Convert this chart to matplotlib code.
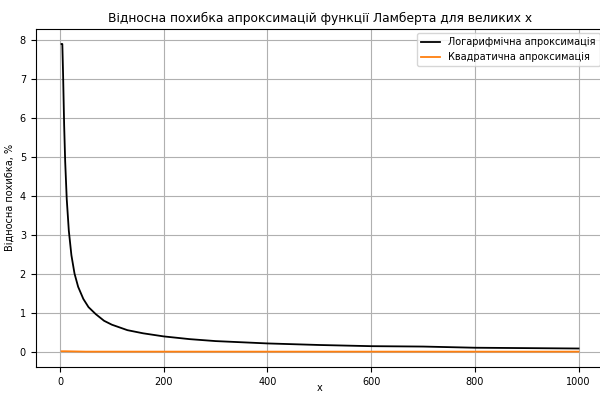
import matplotlib
matplotlib.use("Agg")
import matplotlib.pyplot as plt

# значення
x_log = [3, 4.5, 6, 8, 10, 13, 17, 22, 28, 35, 45, 55, 69, 85, 100, 130,
         160, 200, 250, 300, 400, 500, 600, 700, 800, 900, 1000]
err_log = [7.9, 7.9, 7.1, 5.83, 4.89, 3.93, 3.12, 2.49, 2.02, 1.68, 1.37, 1.16,
           0.98, 0.81, 0.71, 0.57, 0.49, 0.41, 0.34, 0.29, 0.23, 0.19, 0.16,
           0.15, 0.12, 0.11, 0.10]

x_quad = [3, 10, 50, 200, 500, 1000]
err_quad = [0.03, 0.03, 0.02, 0.02, 0.02, 0.02]

fig = plt.figure(figsize=(6, 3.94), dpi=100)
ax = fig.add_axes([0.0595, 0.0685, 0.9478, 0.8589])

ax.plot(x_log, err_log, color="black", linewidth=1.3, label="Логарифмічна апроксимація")
ax.plot(x_quad, err_quad, color="#ff7f0e", linewidth=1.3, label="Квадратична апроксимація")

ax.set_title("Відносна похибка апроксимацій функції Ламберта для великих x",
             fontsize=8.8, pad=5)
ax.set_xlabel("x", fontsize=7)
ax.xaxis.set_label_coords(0.5, -0.046)
ax.set_ylabel("Відносна похибка, %", fontsize=7)
ax.tick_params(labelsize=7)
ax.grid(True)
ax.legend(loc="upper right", fontsize=7)

fig.savefig("out.png", dpi=100)
